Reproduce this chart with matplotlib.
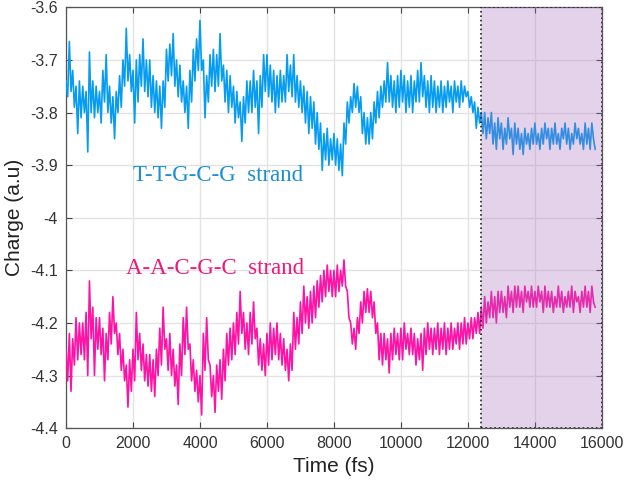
import numpy as np
import matplotlib
matplotlib.use("Agg")
import matplotlib.pyplot as plt
from matplotlib.ticker import FuncFormatter

plt.rcParams['axes.unicode_minus'] = False
plt.rcParams['font.family'] = ['Liberation Sans', 'DejaVu Sans']

# Time axis (fs), sampled every 50 fs
time_fs = np.arange(0, 15850, 50)

# T-T-G-C-G strand charge (a.u)
ttgcg = [
    -3.74, -3.77, -3.665, -3.76, -3.72, -3.79, -3.75, -3.84, -3.74, -3.81,
    -3.75, -3.80, -3.76, -3.875, -3.685, -3.80, -3.74, -3.81, -3.75, -3.80,
    -3.76, -3.82, -3.72, -3.78, -3.69, -3.80, -3.75, -3.82, -3.77, -3.85,
    -3.76, -3.80, -3.73, -3.79, -3.70, -3.75, -3.64, -3.74, -3.69, -3.76,
    -3.72, -3.82, -3.70, -3.78, -3.69, -3.75, -3.66, -3.76, -3.70, -3.77,
    -3.70, -3.79, -3.73, -3.80, -3.74, -3.81, -3.75, -3.83, -3.74, -3.79,
    -3.68, -3.74, -3.67, -3.73, -3.65, -3.75, -3.70, -3.77, -3.71, -3.78,
    -3.74, -3.80, -3.75, -3.83, -3.72, -3.78, -3.68, -3.74, -3.66, -3.72,
    -3.625, -3.72, -3.70, -3.81, -3.73, -3.78, -3.69, -3.75, -3.68, -3.76,
    -3.69, -3.75, -3.65, -3.74, -3.71, -3.78, -3.72, -3.80, -3.73, -3.79,
    -3.75, -3.82, -3.76, -3.81, -3.78, -3.855, -3.77, -3.82, -3.74, -3.80,
    -3.74, -3.80, -3.72, -3.79, -3.74, -3.84, -3.73, -3.79, -3.69, -3.76,
    -3.69, -3.77, -3.71, -3.78, -3.72, -3.80, -3.73, -3.79, -3.72, -3.78,
    -3.73, -3.78, -3.69, -3.76, -3.71, -3.77, -3.69, -3.78, -3.73, -3.79,
    -3.74, -3.80, -3.75, -3.82, -3.76, -3.84, -3.77, -3.83, -3.78, -3.86,
    -3.80, -3.87, -3.82, -3.91, -3.84, -3.89, -3.83, -3.90, -3.85, -3.89,
    -3.84, -3.90, -3.85, -3.91, -3.86, -3.92, -3.82, -3.86, -3.78, -3.82,
    -3.77, -3.80, -3.745, -3.79, -3.75, -3.80, -3.77, -3.84, -3.80, -3.86,
    -3.81, -3.86, -3.80, -3.85, -3.78, -3.82, -3.76, -3.81, -3.75, -3.79,
    -3.74, -3.78, -3.705, -3.78, -3.73, -3.79, -3.74, -3.80, -3.73, -3.79,
    -3.72, -3.78, -3.73, -3.80, -3.74, -3.79, -3.73, -3.80, -3.74, -3.78,
    -3.72, -3.78, -3.705, -3.77, -3.73, -3.79, -3.74, -3.80, -3.73, -3.79,
    -3.74, -3.80, -3.75, -3.79, -3.74, -3.80, -3.75, -3.79, -3.74, -3.78,
    -3.75, -3.80, -3.74, -3.78, -3.75, -3.79, -3.74, -3.78, -3.75, -3.77,
    -3.76, -3.79, -3.77, -3.80, -3.78, -3.83, -3.79, -3.82, -3.80, -3.84,
    -3.80, -3.85, -3.81, -3.84, -3.80, -3.86, -3.82, -3.87, -3.81, -3.85,
    -3.82, -3.87, -3.83, -3.86, -3.81, -3.85, -3.83, -3.88, -3.82, -3.86,
    -3.83, -3.87, -3.84, -3.88, -3.83, -3.86, -3.84, -3.87, -3.83, -3.86,
    -3.82, -3.86, -3.84, -3.87, -3.83, -3.86, -3.82, -3.85, -3.83, -3.87,
    -3.83, -3.86, -3.82, -3.86, -3.84, -3.87, -3.83, -3.85, -3.82, -3.86,
    -3.83, -3.87, -3.84, -3.86, -3.82, -3.85, -3.83, -3.86, -3.84, -3.87,
    -3.82, -3.86, -3.83, -3.87, -3.82, -3.85, -3.87,
]

# A-A-C-G-C strand charge (a.u)
aacgc = [
    -4.25, -4.31, -4.22, -4.33, -4.23, -4.28, -4.19, -4.27, -4.20, -4.26,
    -4.20, -4.27, -4.18, -4.30, -4.12, -4.23, -4.17, -4.30, -4.19, -4.25,
    -4.19, -4.26, -4.21, -4.31, -4.22, -4.27, -4.18, -4.24, -4.15, -4.22,
    -4.20, -4.26, -4.22, -4.29, -4.25, -4.31, -4.28, -4.36, -4.27, -4.33,
    -4.25, -4.31, -4.18, -4.27, -4.22, -4.29, -4.24, -4.31, -4.26, -4.32,
    -4.26, -4.33, -4.27, -4.34, -4.25, -4.30, -4.21, -4.28, -4.17, -4.25,
    -4.23, -4.29, -4.22, -4.30, -4.25, -4.32, -4.28, -4.355, -4.24, -4.30,
    -4.19, -4.26, -4.17, -4.25, -4.24, -4.31, -4.27, -4.33, -4.29, -4.35,
    -4.30, -4.375, -4.22, -4.29, -4.19, -4.27, -4.28, -4.34, -4.30, -4.37,
    -4.28, -4.33, -4.27, -4.345, -4.25, -4.31, -4.22, -4.28, -4.21, -4.27,
    -4.20, -4.26, -4.18, -4.24, -4.14, -4.22, -4.18, -4.25, -4.20, -4.26,
    -4.18, -4.24, -4.16, -4.23, -4.21, -4.28, -4.23, -4.29, -4.24, -4.30,
    -4.22, -4.28, -4.20, -4.27, -4.21, -4.26, -4.20, -4.27, -4.22, -4.28,
    -4.23, -4.29, -4.25, -4.31, -4.24, -4.29, -4.18, -4.25, -4.19, -4.24,
    -4.16, -4.22, -4.13, -4.20, -4.15, -4.21, -4.14, -4.20, -4.13, -4.19,
    -4.12, -4.17, -4.11, -4.16, -4.10, -4.15, -4.09, -4.14, -4.10, -4.15,
    -4.10, -4.15, -4.09, -4.14, -4.10, -4.13, -4.08, -4.13, -4.14, -4.19,
    -4.20, -4.24, -4.21, -4.25, -4.19, -4.22, -4.16, -4.20, -4.14, -4.18,
    -4.135, -4.18, -4.14, -4.19, -4.16, -4.22, -4.20, -4.27, -4.22, -4.28,
    -4.22, -4.27, -4.23, -4.295, -4.22, -4.27, -4.21, -4.26, -4.22, -4.27,
    -4.21, -4.27, -4.20, -4.25, -4.22, -4.26, -4.21, -4.26, -4.22, -4.28,
    -4.23, -4.27, -4.22, -4.29, -4.21, -4.26, -4.20, -4.25, -4.21, -4.26,
    -4.21, -4.25, -4.20, -4.26, -4.21, -4.25, -4.20, -4.26, -4.21, -4.25,
    -4.20, -4.25, -4.21, -4.24, -4.20, -4.25, -4.20, -4.24, -4.19, -4.24,
    -4.20, -4.23, -4.19, -4.23, -4.19, -4.22, -4.18, -4.22, -4.17, -4.21,
    -4.15, -4.20, -4.16, -4.19, -4.14, -4.19, -4.15, -4.20, -4.14, -4.18,
    -4.14, -4.18, -4.15, -4.19, -4.13, -4.17, -4.14, -4.18, -4.13, -4.17,
    -4.13, -4.17, -4.14, -4.18, -4.13, -4.16, -4.14, -4.17, -4.13, -4.17,
    -4.14, -4.17, -4.13, -4.16, -4.14, -4.18, -4.13, -4.17, -4.14, -4.17,
    -4.14, -4.18, -4.15, -4.17, -4.13, -4.17, -4.14, -4.18, -4.15, -4.17,
    -4.14, -4.17, -4.13, -4.18, -4.14, -4.16, -4.15, -4.18, -4.14, -4.17,
    -4.13, -4.17, -4.14, -4.18, -4.13, -4.16, -4.17,
]

shade_start, shade_end = 12400, 16000
x_ticks = [0, 2000, 4000, 6000, 8000, 10000, 12000, 14000, 16000]
y_ticks = [-4.4, -4.3, -4.2, -4.1, -4.0, -3.9, -3.8, -3.7, -3.6]

fig = plt.figure(figsize=(6.25, 4.86), dpi=100)
ax = fig.add_axes([0.1056, 0.119, 0.8574, 0.866])

ax.plot(time_fs, ttgcg, color='#069cf2', linewidth=1.2, zorder=3)
ax.plot(time_fs, aacgc, color='#ff12a6', linewidth=1.2, zorder=3)

# translucent highlighted region drawn over the traces
ax.axvspan(shade_start, shade_end, facecolor='#a56cbc', alpha=0.3,
           edgecolor='none', zorder=4)
ax.axvspan(shade_start, shade_end, facecolor='none', edgecolor='#222222',
           linestyle=':', linewidth=1.2, zorder=5)

ax.text(2000, -3.919, 'T-T-G-C-G  strand', color='#1b8fd6', fontsize=16.5,
        family=['Liberation Serif', 'DejaVu Serif'], va='center', ha='left')
ax.text(1800, -4.096, 'A-A-C-G-C  strand', color='#f0187a', fontsize=16.5,
        family=['Liberation Serif', 'DejaVu Serif'], va='center', ha='left')

ax.set_xlim(0, 16000)
ax.set_ylim(-4.4, -3.6)
ax.set_xticks(x_ticks)
ax.set_yticks(y_ticks)
ax.yaxis.set_major_formatter(FuncFormatter(lambda v, p: '%g' % round(v, 1)))
ax.grid(True, color='#e3e3e3', linewidth=1.0, zorder=0)
ax.set_axisbelow(True)
ax.tick_params(direction='in', top=True, right=True, length=4, width=0.8,
               colors='#444444', labelsize=11.5, labelcolor='#333333', pad=6)
for s in ax.spines.values():
    s.set_color('#555555')
    s.set_linewidth(0.9)

ax.set_xlabel('Time (fs)', fontsize=15, color='#222222', labelpad=4)
ax.set_ylabel('Charge (a.u)', fontsize=15, color='#222222', labelpad=4)

fig.savefig('out.png', dpi=100)
